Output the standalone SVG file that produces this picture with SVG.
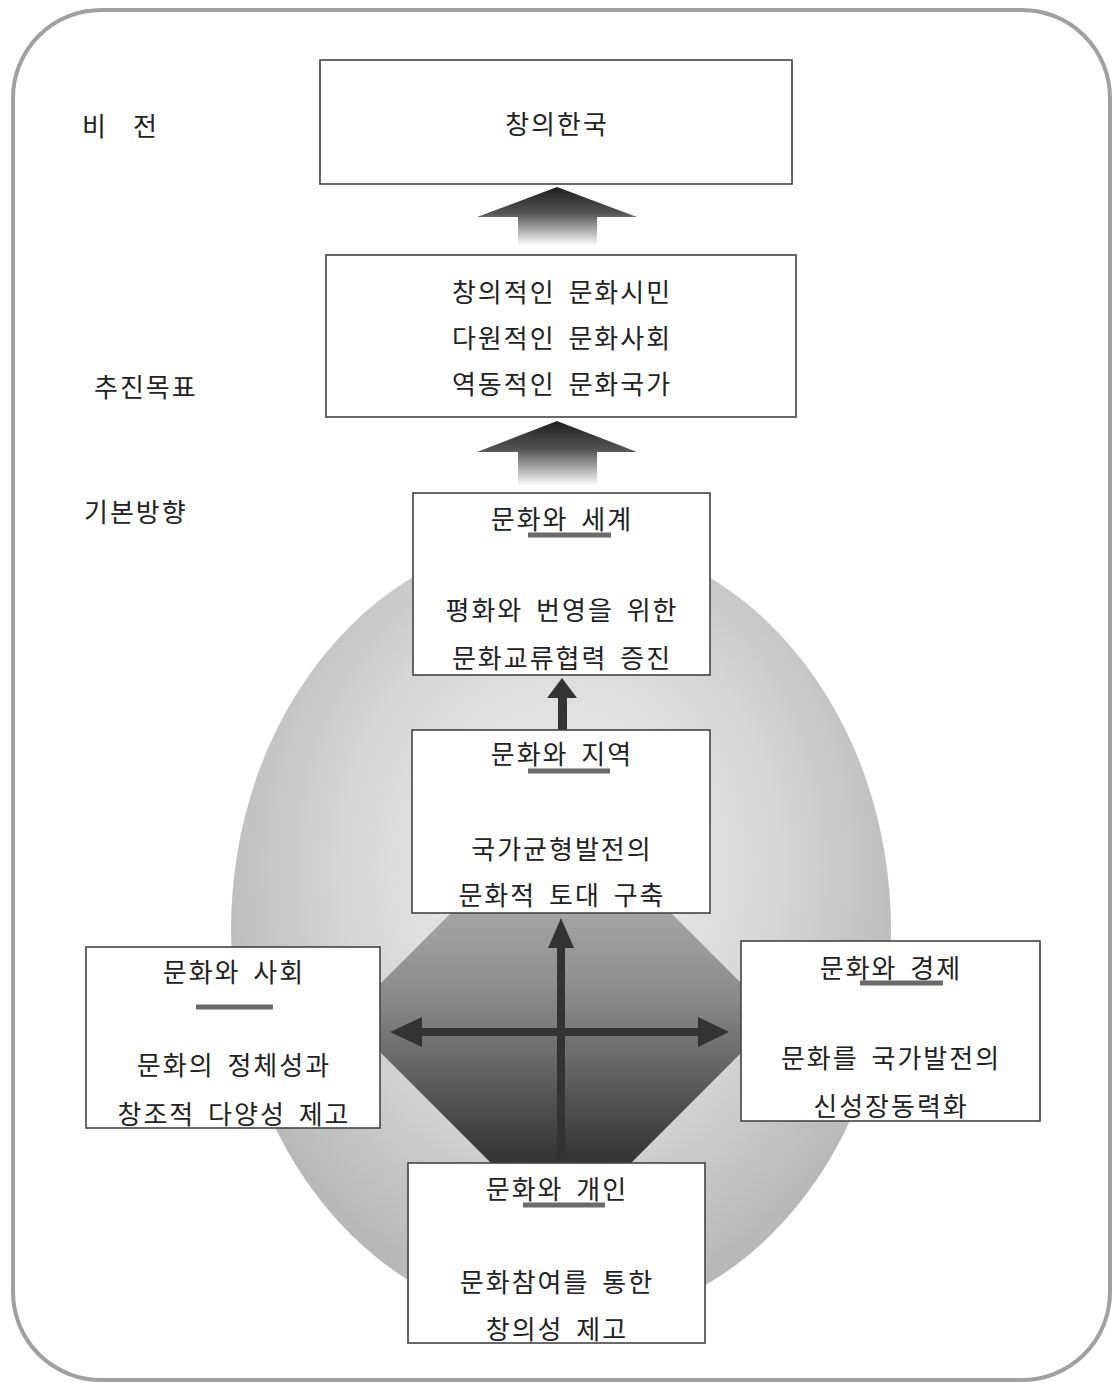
<svg xmlns="http://www.w3.org/2000/svg" width="1117" height="1383" viewBox="0 0 1117 1383">
<defs>
<style>
.t{font-family:"Noto Sans CJK KR","Noto Sans",sans-serif;font-size:26px;fill:#222;text-anchor:middle;dominant-baseline:central;letter-spacing:2px;word-spacing:5px}
.lbl{font-family:"Noto Sans CJK KR","Noto Sans",sans-serif;font-size:26px;fill:#222;dominant-baseline:central;letter-spacing:2px}
.box{fill:#fff;stroke:#444;stroke-width:1.6}
.ul{stroke:#6a6a6a;stroke-width:5}
.arr{fill:#333}
</style>
<linearGradient id="bigArrow" x1="0" y1="0" x2="0" y2="1">
<stop offset="0" stop-color="#1e1e1e"/>
<stop offset="0.45" stop-color="#555"/>
<stop offset="1" stop-color="#fff"/>
</linearGradient>
<radialGradient id="egg" cx="0.5" cy="0.42" r="0.55">
<stop offset="0" stop-color="#f2f2f2"/>
<stop offset="0.6" stop-color="#d6d6d6"/>
<stop offset="1" stop-color="#b8b8b8"/>
</radialGradient>
<linearGradient id="dia" x1="0" y1="0" x2="0" y2="1">
<stop offset="0" stop-color="#c8c8c8"/>
<stop offset="0.45" stop-color="#8a8a8a"/>
<stop offset="0.8" stop-color="#3a3a3a"/>
<stop offset="1" stop-color="#1e1e1e"/>
</linearGradient>
</defs>

<rect x="13" y="10" width="1097" height="1370" rx="88" ry="88" fill="#fff" stroke="#a0a0a0" stroke-width="4"/>

<g id="labels">
<text class="lbl" x="82" y="124">비</text>
<text class="lbl" x="133" y="124">전</text>
<text class="lbl" x="94" y="385">추진목표</text>
<text class="lbl" x="84" y="510">기본방향</text>
</g>

<g id="background">
<ellipse cx="561" cy="930" rx="330" ry="395" fill="url(#egg)"/>
<polygon points="561,803 776,1018 561,1233 346,1018" fill="url(#dia)"/>
</g>

<g id="connectors">
<path d="M557,187 L637,217 L597,217 L597,246 L518,246 L518,217 L477,217 Z" fill="url(#bigArrow)"/>
<path d="M557,421 L637,452 L597,452 L597,486 L518,486 L518,452 L477,452 Z" fill="url(#bigArrow)"/>
<path class="arr" d="M562,678 L577,698 L567,698 L567,730 L558,730 L558,698 L547,698 Z"/>
<path class="arr" d="M561,918 L574,948 L565,948 L565,1160 L557,1160 L557,948 L548,948 Z"/>
<path class="arr" d="M390,1032 L422,1017 L422,1028 L698,1028 L698,1017 L729,1032 L698,1047 L698,1036 L422,1036 L422,1047 Z"/>
</g>

<g id="vision">
<rect class="box" x="320" y="60" width="472" height="124"/>
<text class="t" x="557" y="122">창의한국</text>
</g>

<g id="goals">
<rect class="box" x="326" y="255" width="470" height="162"/>
<text class="t" x="562" y="290">창의적인 문화시민</text>
<text class="t" x="562" y="336">다원적인 문화사회</text>
<text class="t" x="562" y="382">역동적인 문화국가</text>
</g>

<g id="world">
<rect class="box" x="413" y="493" width="297" height="182"/>
<text class="t" x="562" y="517">문화와 세계</text>
<line class="ul" x1="528" y1="535" x2="611" y2="535"/>
<text class="t" x="562" y="608">평화와 번영을 위한</text>
<text class="t" x="562" y="656">문화교류협력 증진</text>
</g>

<g id="region">
<rect class="box" x="412" y="730" width="298" height="183"/>
<text class="t" x="562" y="752">문화와 지역</text>
<line class="ul" x1="528" y1="771" x2="610" y2="771"/>
<text class="t" x="562" y="847">국가균형발전의</text>
<text class="t" x="562" y="893">문화적 토대 구축</text>
</g>

<g id="society">
<rect class="box" x="86" y="947" width="294" height="181"/>
<text class="t" x="234" y="970">문화와 사회</text>
<line class="ul" x1="196" y1="1007" x2="273" y2="1007"/>
<text class="t" x="234" y="1063">문화의 정체성과</text>
<text class="t" x="234" y="1112">창조적 다양성 제고</text>
</g>

<g id="economy">
<rect class="box" x="741" y="941" width="299" height="180"/>
<text class="t" x="891" y="966">문화와 경제</text>
<line class="ul" x1="860" y1="983" x2="943" y2="983"/>
<text class="t" x="891" y="1056">문화를 국가발전의</text>
<text class="t" x="891" y="1104">신성장동력화</text>
</g>

<g id="individual">
<rect class="box" x="408" y="1163" width="297" height="180"/>
<text class="t" x="557" y="1187">문화와 개인</text>
<line class="ul" x1="523" y1="1205" x2="605" y2="1205"/>
<text class="t" x="557" y="1280">문화참여를 통한</text>
<text class="t" x="557" y="1327">창의성 제고</text>
</g>
</svg>
